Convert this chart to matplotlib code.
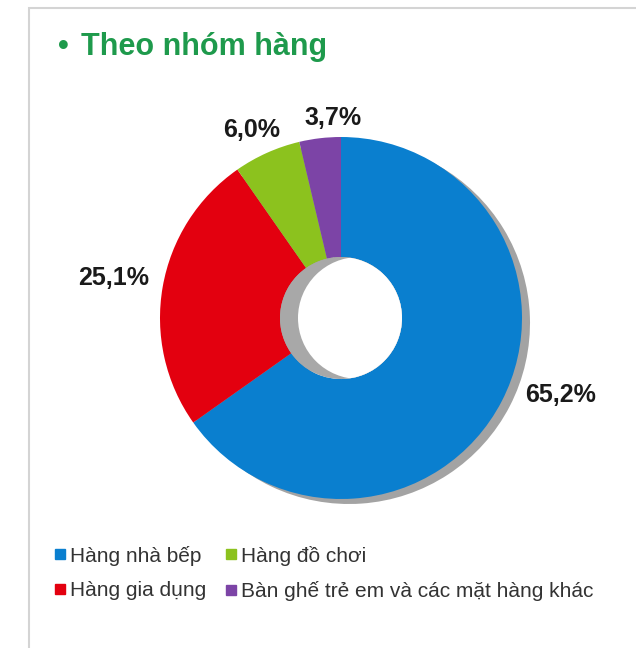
import matplotlib.pyplot as plt
from matplotlib.patches import Circle, Rectangle
from matplotlib.lines import Line2D

# Cơ cấu theo nhóm hàng (%)
categories = ["Hàng nhà bếp", "Hàng gia dụng", "Hàng đồ chơi", "Bàn ghế trẻ em và các mặt hàng khác"]
shares = [65.2, 25.1, 6.0, 3.7]
labels = ["65,2%", "25,1%", "6,0%", "3,7%"]
colors = ["#0a7fcf", "#e3000f", "#8cc21e", "#7c44a6"]

# label positions in pixel space (x, y from top)
label_pos = [(561, 395), (114, 278), (252, 130), (333, 118)]

W, H = 636, 648
fig = plt.figure(figsize=(W / 100, H / 100), dpi=100)
ax = fig.add_axes([0, 0, 1, 1])

def Y(y):
    return H - y

cx, cy = 341, Y(318)
R, r_hole = 181, 61

# outer frame
ax.add_patch(Rectangle((29, Y(650)), 620, 642, fill=False, ec="#d4d4d4", lw=1.5))

# drop shadow ring
ax.pie(shares, colors=["#a3a3a3"] * 4, startangle=90, counterclock=False,
       center=(cx + 8, cy - 5), radius=R, frame=True,
       wedgeprops=dict(width=R - r_hole, linewidth=0))

wedges, _ = ax.pie(shares, colors=colors, startangle=90, counterclock=False,
                   center=(cx, cy), radius=R, frame=True,
                   wedgeprops=dict(width=R - r_hole, linewidth=0))

# inner hole shading
hole = Circle((cx, cy), r_hole, fc="#a8a8a8", ec="none")
ax.add_patch(hole)
inner = Circle((cx + 18, cy), r_hole, fc="white", ec="none")
ax.add_patch(inner)
inner.set_clip_path(hole)

ax.set_xlim(0, W)
ax.set_ylim(0, H)
ax.set_aspect("equal")
ax.axis("off")

for text, (x, y) in zip(labels, label_pos):
    ax.text(x, Y(y), text, ha="center", va="center", fontsize=18,
            fontweight="bold", color="#1a1a1a", family="Liberation Sans")

ax.text(58, Y(47), "•", ha="left", va="center", fontsize=22,
        fontweight="bold", color="#1e9a4c", family="Liberation Sans")
ax.text(81, Y(47), "Theo nhóm hàng", ha="left", va="center", fontsize=22,
        fontweight="bold", color="#1e9a4c", family="Liberation Sans")

handles = [Line2D([], [], ls="none", marker="s", markersize=7, color=c) for c in colors]
ax.legend(handles, categories, ncol=2, loc="upper left",
          bbox_to_anchor=(36 / W, 1 - 527 / H), frameon=False,
          handlelength=0.5, handletextpad=0.25, columnspacing=0.9, labelspacing=0.75,
          prop=dict(family="Liberation Sans", size=15),
          labelcolor="#333333")

fig.savefig("out.png", dpi=100)
